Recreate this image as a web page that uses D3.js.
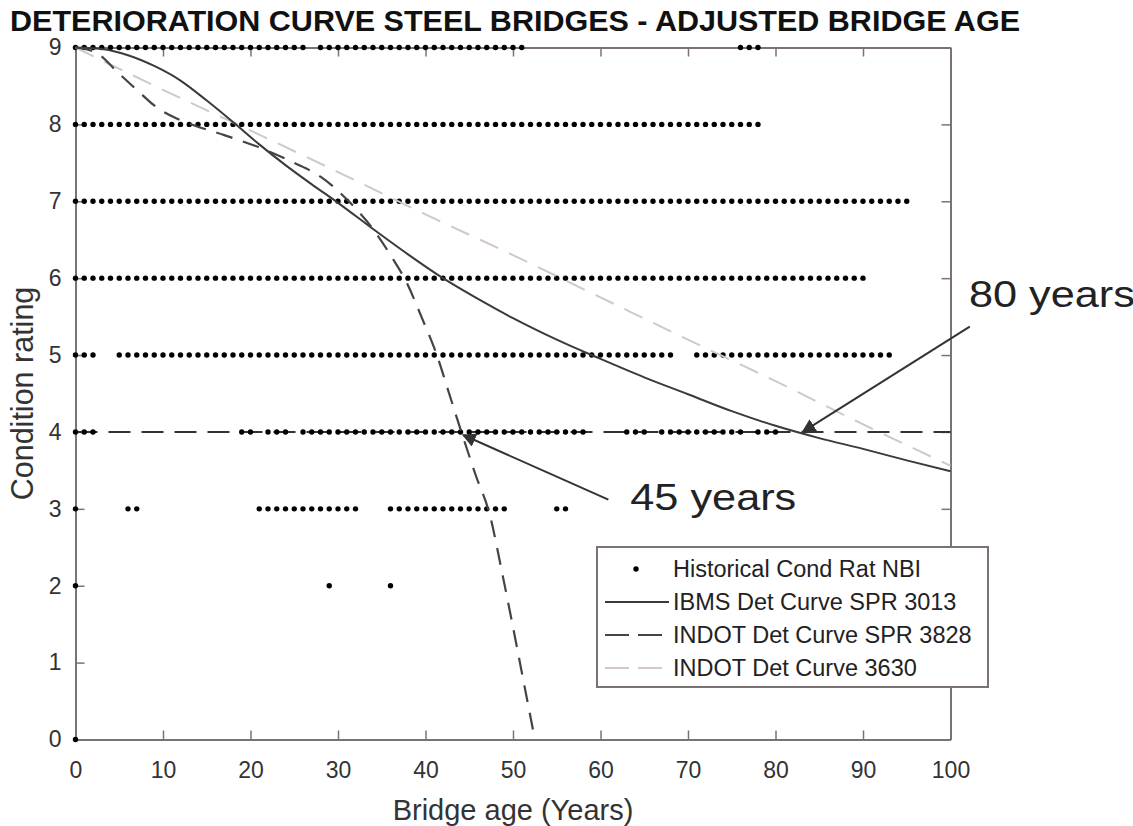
<!DOCTYPE html>
<html>
<head>
<meta charset="utf-8">
<script src="https://cdn.jsdelivr.net/npm/d3@7"></script>
<style>
  body { margin: 0; background: #fff; }
  svg text { font-family: "Liberation Sans", Arial, sans-serif; }
</style>
</head>
<body>
<div id="chart"></div>
<script>
// NBI condition ratings and the bridge ages (runs of whole years) where a record shows up
var ratings = [9, 8, 7, 6, 5, 4, 3, 2, 0];
var ageRuns = [
    [[0, 26], [28, 51], [76, 78]],
    [[0, 78]],
    [[0, 95]],
    [[0, 90]],
    [[0, 2], [5, 68], [71, 93]],
    [[0, 2], [19, 20], [22, 24], [26, 58], [63, 65], [67, 76], [78, 80]],
    [[0, 0], [6, 7], [21, 32], [36, 49], [55, 56]],
    [[0, 0], [29, 29], [36, 36]],
    [[0, 0]]
];

// IBMS Det Curve SPR 3013 (solid)
var ibmsAge = [0, 3, 6, 9, 12, 15, 18, 21, 24, 27, 30, 34, 38, 42, 46, 50, 55, 60, 65, 70, 75, 80, 85, 90, 95, 100];
var ibmsRating = [9.0, 8.98, 8.9, 8.76, 8.57, 8.31, 8.03, 7.74, 7.47, 7.22, 6.98, 6.64, 6.31, 6.0, 5.73, 5.48, 5.2, 4.95, 4.71, 4.49, 4.27, 4.08, 3.92, 3.78, 3.63, 3.49];

// INDOT Det Curve SPR 3828 (dark dashed)
var spr3828Age = [0, 2.4, 4.8, 7, 9.3, 11.5, 13.5, 17, 21, 25, 28, 31.4, 34, 36, 37.9, 39.6, 41.3, 42.7, 44.1, 45.7, 47.4, 48.7, 49.9, 51.2, 52.5];
var spr3828Rating = [9.0, 8.93, 8.68, 8.45, 8.22, 8.08, 7.99, 7.86, 7.7, 7.5, 7.32, 6.98, 6.64, 6.3, 5.93, 5.48, 5.0, 4.5, 4.0, 3.45, 2.9, 2.2, 1.52, 0.76, 0.0];

// INDOT Det Curve 3630 (light dashed)
var c3630Age = [0, 10, 20, 30, 40, 50, 60, 70, 80, 90, 100];
var c3630Rating = [9, 8.45, 7.92, 7.38, 6.83, 6.3, 5.75, 5.2, 4.66, 4.1, 3.56];

var thresholdRating = 4;
var xTicks = [0, 10, 20, 30, 40, 50, 60, 70, 80, 90, 100];
var yTicks = [0, 1, 2, 3, 4, 5, 6, 7, 8, 9];

// annotations: label, label position, arrow tail and arrow tip (data units)
var notes = [
    { text: "80 years", tx: 102.1, ty: 5.62, x1: 102.2, y1: 5.37, x2: 83.1, y2: 4.0 },
    { text: "45 years", tx: 63.4, ty: 2.98, x1: 60.9, y1: 3.12, x2: 44.3, y2: 3.96 }
];

var legendItems = ["Historical Cond Rat NBI", "IBMS Det Curve SPR 3013", "INDOT Det Curve SPR 3828", "INDOT Det Curve 3630"];

var width = 1133, height = 826;
var margin = { top: 47.5, right: 182.5, bottom: 86.5, left: 75.5 };
var axisColor = "#7b7373";

var svg = d3.select("#chart").append("svg")
    .attr("width", width)
    .attr("height", height);

var x = d3.scaleLinear().domain([0, 100]).range([margin.left, width - margin.right]);
var y = d3.scaleLinear().domain([0, 9]).range([height - margin.bottom, margin.top]);

// title
svg.append("text")
    .attr("x", 10)
    .attr("y", 30.5)
    .attr("font-size", 29)
    .attr("font-weight", "bold")
    .attr("fill", "#111")
    .attr("textLength", 1010)
    .attr("lengthAdjust", "spacingAndGlyphs")
    .text("DETERIORATION CURVE STEEL BRIDGES - ADJUSTED BRIDGE AGE");

// axes (box with ticks pointing inward)
function styleAxis(g) {
    g.attr("font-size", 23).attr("font-family", "Liberation Sans, Arial, sans-serif");
    g.selectAll(".domain").attr("stroke", axisColor).attr("stroke-width", 2);
    g.selectAll(".tick line").attr("stroke", axisColor).attr("stroke-width", 1.5);
    g.selectAll(".tick text").attr("fill", "#333");
}

svg.append("g")
    .attr("transform", "translate(0," + y(0) + ")")
    .call(d3.axisBottom(x).tickValues(xTicks).tickSize(-9).tickSizeOuter(0).tickPadding(22))
    .call(styleAxis);
svg.append("g")
    .attr("transform", "translate(0," + y(9) + ")")
    .call(d3.axisTop(x).tickValues(xTicks).tickSize(-9).tickSizeOuter(0).tickFormat(""))
    .call(styleAxis);
svg.append("g")
    .attr("transform", "translate(" + x(0) + ",0)")
    .call(d3.axisLeft(y).tickValues(yTicks).tickSize(-9).tickSizeOuter(0).tickPadding(14))
    .call(styleAxis);
svg.append("g")
    .attr("transform", "translate(" + x(100) + ",0)")
    .call(d3.axisRight(y).tickValues(yTicks).tickSize(-9).tickSizeOuter(0).tickFormat(""))
    .call(styleAxis);

// axis labels
svg.append("text")
    .attr("x", (x(0) + x(100)) / 2)
    .attr("y", 820)
    .attr("text-anchor", "middle")
    .attr("font-size", 29)
    .attr("fill", "#333")
    .text("Bridge age (Years)");
svg.append("text")
    .attr("transform", "translate(33," + (y(0) + y(9)) / 2 + ") rotate(-90)")
    .attr("text-anchor", "middle")
    .attr("font-size", 30.5)
    .attr("fill", "#333")
    .text("Condition rating");

// threshold line at rating 4
svg.append("line")
    .attr("x1", x(0)).attr("x2", x(100))
    .attr("y1", y(thresholdRating)).attr("y2", y(thresholdRating))
    .attr("stroke", "#333")
    .attr("stroke-width", 2)
    .attr("stroke-dasharray", "22,11");

// historical dots
var dots = [];
ratings.forEach(function (r, i) {
    ageRuns[i].forEach(function (run) {
        for (var a = run[0]; a <= run[1]; a++) dots.push({ age: a, rating: r });
    });
});
svg.append("g").selectAll("circle")
    .data(dots)
    .enter().append("circle")
    .attr("cx", function (d) { return x(d.age); })
    .attr("cy", function (d) { return y(d.rating); })
    .attr("r", 2.7)
    .attr("fill", "#000");

// deterioration curves
var line = d3.line()
    .x(function (d) { return x(d[0]); })
    .y(function (d) { return y(d[1]); })
    .curve(d3.curveMonotoneX);

var curves = [
    { ages: c3630Age, vals: c3630Rating, color: "#d2c8c8", dash: "20,12", w: 2 },
    { ages: ibmsAge, vals: ibmsRating, color: "#3a3a3a", dash: null, w: 2 },
    { ages: spr3828Age, vals: spr3828Rating, color: "#444", dash: "17,11", w: 2.2 }
];
curves.forEach(function (c) {
    svg.append("path")
        .datum(c.ages.map(function (a, i) { return [a, c.vals[i]]; }))
        .attr("d", line)
        .attr("fill", "none")
        .attr("stroke", c.color)
        .attr("stroke-width", c.w)
        .attr("stroke-dasharray", c.dash);
});

// arrows and their labels
svg.append("defs").append("marker")
    .attr("id", "arrow")
    .attr("viewBox", "0 0 10 10")
    .attr("refX", 9).attr("refY", 5)
    .attr("markerWidth", 7).attr("markerHeight", 7)
    .attr("markerUnits", "strokeWidth")
    .attr("orient", "auto")
    .append("path")
    .attr("d", "M0,0L10,5L0,10z")
    .attr("fill", "#333");

notes.forEach(function (n) {
    svg.append("line")
        .attr("x1", x(n.x1)).attr("y1", y(n.y1))
        .attr("x2", x(n.x2)).attr("y2", y(n.y2))
        .attr("stroke", "#333")
        .attr("stroke-width", 2)
        .attr("marker-end", "url(#arrow)");
    svg.append("text")
        .attr("x", x(n.tx))
        .attr("y", y(n.ty))
        .attr("font-family", "DejaVu Sans, sans-serif")
        .attr("font-size", 36)
        .attr("fill", "#222")
        .attr("textLength", 166)
        .attr("lengthAdjust", "spacingAndGlyphs")
        .text(n.text);
});

// legend
var lg = svg.append("g").attr("transform", "translate(597,547)");
lg.append("rect")
    .attr("width", 391).attr("height", 140)
    .attr("fill", "#fff")
    .attr("stroke", axisColor)
    .attr("stroke-width", 2);
legendItems.forEach(function (name, i) {
    var cy = 22 + i * 33;
    if (i === 0) {
        lg.append("circle").attr("cx", 39).attr("cy", cy).attr("r", 2.7).attr("fill", "#000");
    } else {
        var c = curves[[1, 2, 0][i - 1]];
        lg.append("line")
            .attr("x1", 8).attr("x2", 72)
            .attr("y1", cy).attr("y2", cy)
            .attr("stroke", c.color)
            .attr("stroke-width", 2)
            .attr("stroke-dasharray", c.dash ? "24,9" : null);
    }
    lg.append("text")
        .attr("x", 76)
        .attr("y", cy)
        .attr("dy", "0.35em")
        .attr("font-size", 23.5)
        .attr("fill", "#222")
        .text(name);
});
</script>
</body>
</html>
